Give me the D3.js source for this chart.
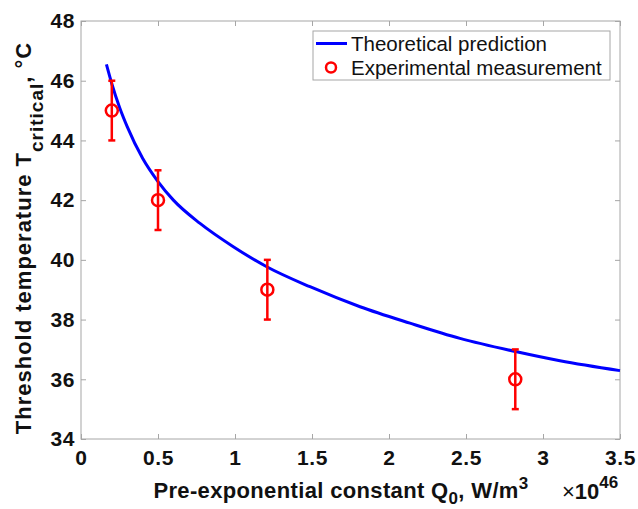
<!DOCTYPE html>
<html><head><meta charset="utf-8">
<script src="https://cdn.jsdelivr.net/npm/d3@7"></script>
<style>body{margin:0;background:#fff}svg{display:block}text{font-family:Arial,"Liberation Sans",Helvetica,sans-serif}</style>
</head><body><svg id="c" width="638" height="509"></svg>
<script>
// Experimental measurements (Q0 in units of 1e46 W/m^3, T in °C, ± error)
const expQ = [0.20, 0.50, 1.21, 2.82];
const expT = [45, 42, 39, 36];
const expErr = [1, 1, 1, 1];
// Theoretical prediction curve
const theoQ = [0.165, 0.2, 0.25, 0.3, 0.4, 0.5, 0.6, 0.773, 0.989, 1.206, 1.487, 1.812, 2.136, 2.461, 2.829, 3.11, 3.5];
const theoT = [46.55, 45.9, 45.11, 44.46, 43.4, 42.62, 42.0, 41.22, 40.44, 39.77, 39.10, 38.43, 37.88, 37.37, 36.92, 36.62, 36.29];
const xTicks = [0, 0.5, 1, 1.5, 2, 2.5, 3, 3.5];
const yTicks = [34, 36, 38, 40, 42, 44, 46, 48];
const legendLabels = ["Theoretical prediction", "Experimental measurement"];

const svg = d3.select("#c");
const L = 81, R = 620, T = 21, B = 439;
const x = d3.scaleLinear().domain([0, 3.5]).range([L, R]);
const y = d3.scaleLinear().domain([34, 48]).range([B, T]);
const axisCol = "#a6a6a6";

// frame
svg.append("rect").attr("x", L).attr("y", T).attr("width", R - L).attr("height", B - T)
  .attr("fill", "none").attr("stroke", axisCol).attr("stroke-width", 1);

function styleAxis(g) {
  g.select(".domain").remove();
  g.selectAll(".tick line").attr("stroke", axisCol);
  g.selectAll(".tick text").attr("font-size", 21).attr("font-weight", "bold").attr("fill", "#111")
    .attr("letter-spacing", 0.6);
}
svg.append("g").attr("transform", `translate(0,${B})`)
  .call(d3.axisBottom(x).tickValues(xTicks).tickFormat(d3.format("")).tickSize(-5).tickPadding(11))
  .call(styleAxis);
svg.append("g").attr("transform", `translate(0,${T})`)
  .call(d3.axisTop(x).tickValues(xTicks).tickFormat("").tickSize(-5)).call(styleAxis);
svg.append("g").attr("transform", `translate(${L},0)`)
  .call(d3.axisLeft(y).tickValues(yTicks).tickSize(-5).tickPadding(6))
  .call(styleAxis);
svg.append("g").attr("transform", `translate(${R},0)`)
  .call(d3.axisRight(y).tickValues(yTicks).tickFormat("").tickSize(-5)).call(styleAxis);

// curve
const line = d3.line().x((d, i) => x(theoQ[i])).y((d, i) => y(theoT[i])).curve(d3.curveMonotoneX);
svg.append("path").datum(theoQ).attr("d", line).attr("fill", "none")
  .attr("stroke", "#0000ff").attr("stroke-width", 3);

// error bars + markers
const red = "#ff0000";
const eg = svg.append("g");
expQ.forEach((q, i) => {
  const cx = x(q), lo = y(expT[i] - expErr[i]), hi = y(expT[i] + expErr[i]);
  eg.append("line").attr("x1", cx).attr("x2", cx).attr("y1", lo).attr("y2", hi).attr("stroke", red).attr("stroke-width", 2.5);
  [lo, hi].forEach(v => eg.append("line").attr("x1", cx - 3.5).attr("x2", cx + 3.5).attr("y1", v).attr("y2", v).attr("stroke", red).attr("stroke-width", 2.5));
  eg.append("circle").attr("cx", cx).attr("cy", y(expT[i])).attr("r", 6).attr("fill", "none").attr("stroke", red).attr("stroke-width", 2.5);
});

// legend
const lg = svg.append("g");
lg.append("rect").attr("x", 313).attr("y", 31).attr("width", 297).attr("height", 49)
  .attr("fill", "#fff").attr("stroke", axisCol).attr("stroke-width", 1);
lg.append("line").attr("x1", 316).attr("x2", 347).attr("y1", 43.5).attr("y2", 43.5).attr("stroke", "#0000ff").attr("stroke-width", 3);
lg.append("circle").attr("cx", 331).attr("cy", 67.5).attr("r", 5).attr("fill", "none").attr("stroke", red).attr("stroke-width", 2.5);
legendLabels.forEach((t, i) => lg.append("text").attr("x", 351).attr("y", 43.5 + 24 * i).attr("dy", "0.35em")
  .attr("font-size", 20.5).attr("fill", "#111").text(t));

// x label
const xl = svg.append("text").attr("x", 341).attr("y", 498).attr("text-anchor", "middle")
  .attr("font-size", 22).attr("font-weight", "bold").attr("fill", "#111").attr("letter-spacing", 0.35);
xl.append("tspan").text("Pre-exponential constant Q");
xl.append("tspan").attr("font-size", 17).attr("dy", 6).text("0");
xl.append("tspan").attr("dy", -6).text(", W/m");
xl.append("tspan").attr("font-size", 17).attr("dy", -9).text("3");
const ex = svg.append("text").attr("x", 562).attr("y", 499).attr("font-size", 22).attr("font-weight", "bold").attr("fill", "#111");
ex.append("tspan").attr("font-weight", "normal").text("×");
ex.append("tspan").text("10");
ex.append("tspan").attr("font-size", 17).attr("dy", -11).text("46");

// y label
const yl = svg.append("text").attr("transform", "translate(31,238) rotate(-90)").attr("text-anchor", "middle")
  .attr("font-size", 22).attr("font-weight", "bold").attr("fill", "#111").attr("letter-spacing", 1);
yl.append("tspan").text("Threshold temperature T");
yl.append("tspan").attr("font-size", 19).attr("dy", 12).text("critical");
yl.append("tspan").attr("dy", -12).text(", °C");
</script></body></html>
